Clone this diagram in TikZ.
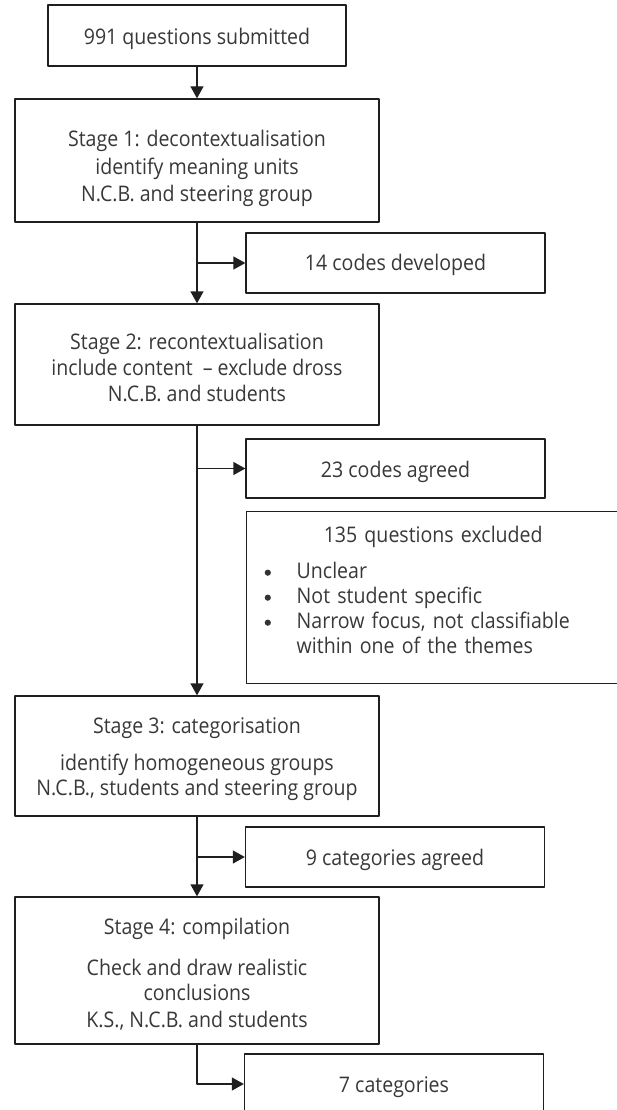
\documentclass[tikz,border=0pt]{standalone}
\usepackage{fontspec}
\setmainfont{Open Sans}[FakeStretch=0.91]
\usetikzlibrary{arrows.meta}
\newcommand\topgap{\rule{0pt}{23pt}}
\newcommand\dotitem{\hspace*{18.5pt}\makebox[32pt][l]{\raisebox{2.6pt}{\tikz\fill[black!80] (0,0) circle (3.1pt);}}}
\begin{document}
\begin{tikzpicture}[x=1pt,y=-1pt,>={Triangle[width=13pt,length=12pt]}, line width=1.35pt, line join=round,
	font=\fontsize{21.5}{26}\selectfont,
	box/.style={draw=black!88,text=black!78,align=center,inner sep=0pt},
	stage/.style={box,minimum width=364pt},
	side/.style={box,minimum width=299pt,minimum height=60pt},
	flow/.style={->,draw=black!88}]
	\def\tx{197}
	\useasboundingbox (0,0) rectangle (617,1110);
	\node[box,minimum width=298pt,minimum height=61pt] (sub) at (\tx,35.5) {\topgap991 questions submitted};
	\node[stage,minimum height=123pt] (s1) at (\tx,160.5) {\rule{0pt}{33pt}Stage 1: decontextualisation\\[1.5pt] identify meaning units\\[1.5pt] N.C.B. and steering group};
	\node[side] (c14) at (395.5,263) {\rule{0pt}{21pt}14 codes developed};
	\node[stage,minimum height=121pt] (s2) at (\tx,364.5) {\topgap Stage 2: recontextualisation\\ include content\ \ -- exclude dross\\ N.C.B. and students};
	\node[side,minimum height=59pt] (c23) at (395.5,468.5) {\topgap23 codes agreed};
	\node[box,align=left,anchor=north west,text width=400pt,minimum width=400pt,minimum height=172pt] (ex135) at (246,511) {\makebox[400pt]{135 questions excluded\hspace{26pt}}\\[10pt]
		\dotitem Unclear\\[-1pt]
		\dotitem Not student specific\\[-1pt]
		\dotitem Narrow focus, not classifiable\\[-1pt]
		\hspace*{50.5pt}within one of the themes\rule[-15pt]{0pt}{1pt}};
	\node[stage,minimum height=120pt] (s3) at (\tx,756) {\topgap Stage 3: categorisation\\[11pt] identify homogeneous groups\\[-1pt] N.C.B., students and steering group};
	\node[side] (c9) at (395,857) {\topgap9 categories agreed};
	\node[stage,minimum height=147pt] (s4) at (\tx,970.5) {\rule{0pt}{23pt}Stage 4: compilation\\[15pt] Check and draw realistic\\[-0.5pt] conclusions\\[0.5pt] K.S., N.C.B. and students};
	\node[side] (c7) at (394,1084) {\topgap7 categories};
	\draw[flow] (sub) -- (s1);
	\draw[flow] (s1) -- (s2);
	\draw[flow] (s1.south |- c14) -- (c14);
	\draw[flow] (s2) -- (s3);
	\draw[flow] (s2.south |- c23) -- (c23);
	\draw[flow] (s3) -- (s4);
	\draw[flow] (s3.south |- c9) -- (c9);
	\draw[flow] (s4) |- (c7);
	%\draw[red] (0,0) grid[step=50] (617,1110);
\end{tikzpicture}
\end{document}
